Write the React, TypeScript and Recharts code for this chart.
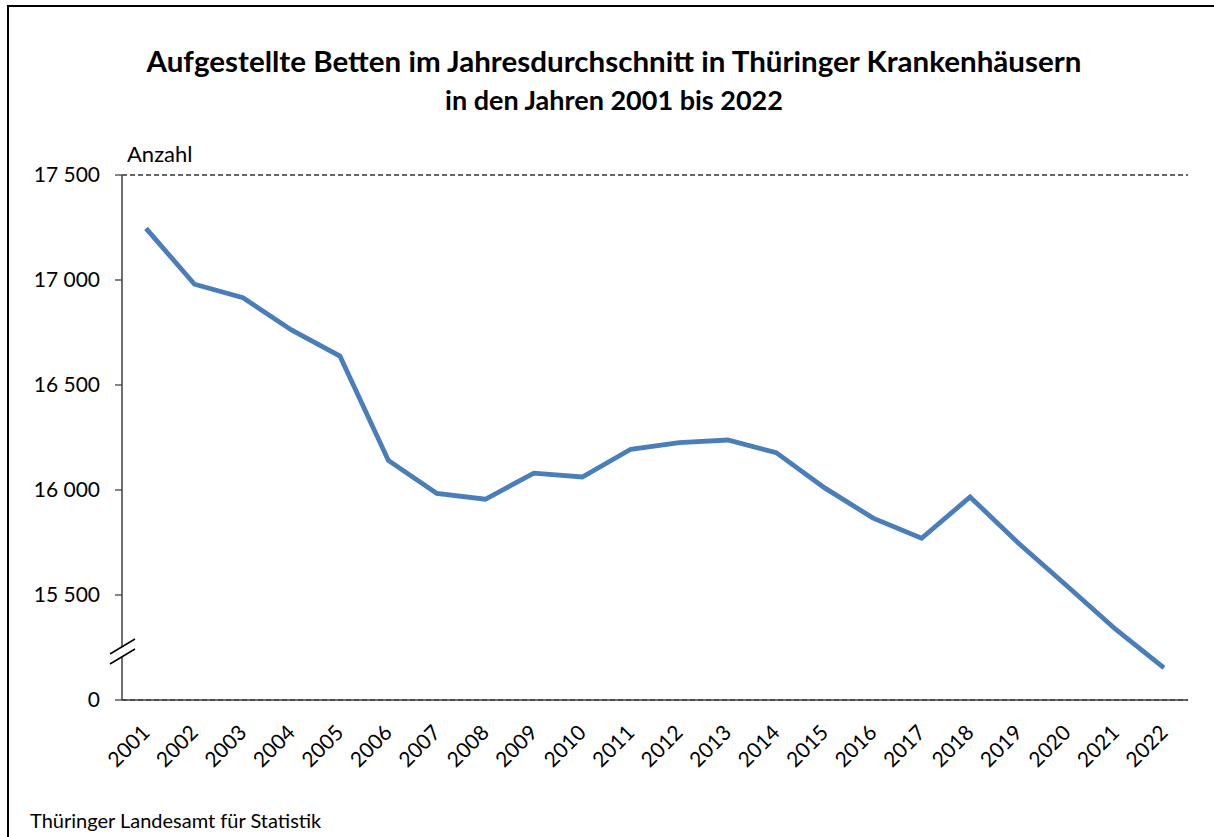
import React from "react";
import { LineChart, Line, XAxis, YAxis, CartesianGrid } from "recharts";

const years = ["2001","2002","2003","2004","2005","2006","2007","2008","2009","2010","2011","2012","2013","2014","2015","2016","2017","2018","2019","2020","2021","2022"];
const beds = [17246,16980,16916,16762,16638,16141,15984,15956,16080,16062,16194,16226,16238,16178,16010,15866,15770,15967,15746,15543,15337,15153];
const yTicks = [15000,15500,16000,16500,17000,17500];

const title1 = "Aufgestellte Betten im Jahresdurchschnitt in Thüringer Krankenhäusern";
const title2 = "in den Jahren 2001 bis 2022";
const unitLabel = "Anzahl";
const source = "Thüringer Landesamt für Statistik";

const data = years.map((y, i) => ({ year: y, value: beds[i] }));

const FONT = "Lato, 'Open Sans', sans-serif";

const fmt = (v: number) => {
  if (v === 15000) return "0";
  const s = String(v);
  return s.slice(0, s.length - 3) + " " + s.slice(s.length - 3);
};

const XTick = (props: any) => {
  const { x, y, payload } = props;
  return (
    <g transform={`translate(${x + 5},${y + 34}) rotate(-45)`}>
      <text x={0} y={0} textAnchor="end" fontFamily={FONT} fontSize={21} fill="#000">
        {payload.value}
      </text>
    </g>
  );
};

export default function App() {
  return (
    <div style={{ position: "absolute", left: 0, top: 0, width: 1214, height: 837, overflow: "hidden", background: "#fff" }}>
      <div style={{ position: "absolute", left: 7, top: 5, width: 1400, height: 1000, border: "2px solid #000", boxSizing: "border-box" }} />
      <div style={{ position: "absolute", left: 0, top: 0 }}>
        <LineChart width={1214} height={837} data={data} margin={{ top: 175, right: 26, bottom: 77, left: 62 }}>
          <CartesianGrid horizontal={true} vertical={false} stroke="#333" strokeDasharray="5 3" strokeWidth={1.5} />
          <XAxis
            dataKey="year"
            height={60}
            padding={{ left: 24, right: 24 }}
            tickLine={false}
            tickSize={0}
            tickMargin={0}
            interval={0}
            axisLine={{ stroke: "#404040", strokeWidth: 1.5 }}
            tick={<XTick />}
          />
          <YAxis
            yAxisId="l"
            width={60}
            domain={[15000, 17500]}
            ticks={yTicks}
            tickFormatter={fmt}
            allowDataOverflow
            tickSize={7}
            tickMargin={15}
            axisLine={{ stroke: "#404040", strokeWidth: 1.5 }}
            tickLine={{ stroke: "#404040", strokeWidth: 1.3 }}
            tick={{ fontFamily: FONT, fontSize: 21, fill: "#000" }}
          />
          <YAxis
            yAxisId="r"
            orientation="right"
            width={0}
            domain={[15000, 17500]}
            tick={false}
            tickLine={false}
            axisLine={{ stroke: "#000", strokeWidth: 1.3 }}
          />
          <Line
            yAxisId="l"
            type="linear"
            dataKey="value"
            stroke="#4a7ebb"
            strokeWidth={4.8}
            dot={false}
            activeDot={false}
            isAnimationActive={false}
          />
        </LineChart>
      </div>
      <svg width={1214} height={837} style={{ position: "absolute", left: 0, top: 0, pointerEvents: "none" }}>
        <text x={614} y={72} textAnchor="middle" fontFamily={FONT} fontWeight={700} fontSize={28} textLength={935} lengthAdjust="spacingAndGlyphs" fill="#000">{title1}</text>
        <text x={614} y={110} textAnchor="middle" fontFamily={FONT} fontWeight={700} fontSize={27} fill="#000">{title2}</text>
        <text x={127} y={162} fontFamily={FONT} fontSize={22} fill="#000">{unitLabel}</text>
        <text x={30} y={828} fontFamily={FONT} fontSize={20} fill="#000">{source}</text>
        <polygon points="110,654 135,639 135,649 110,664" fill="#fff" />
        <line x1={110} y1={654} x2={135} y2={639} stroke="#000" strokeWidth={1.5} />
        <line x1={110} y1={664} x2={135} y2={649} stroke="#000" strokeWidth={1.5} />
      </svg>
    </div>
  );
}
